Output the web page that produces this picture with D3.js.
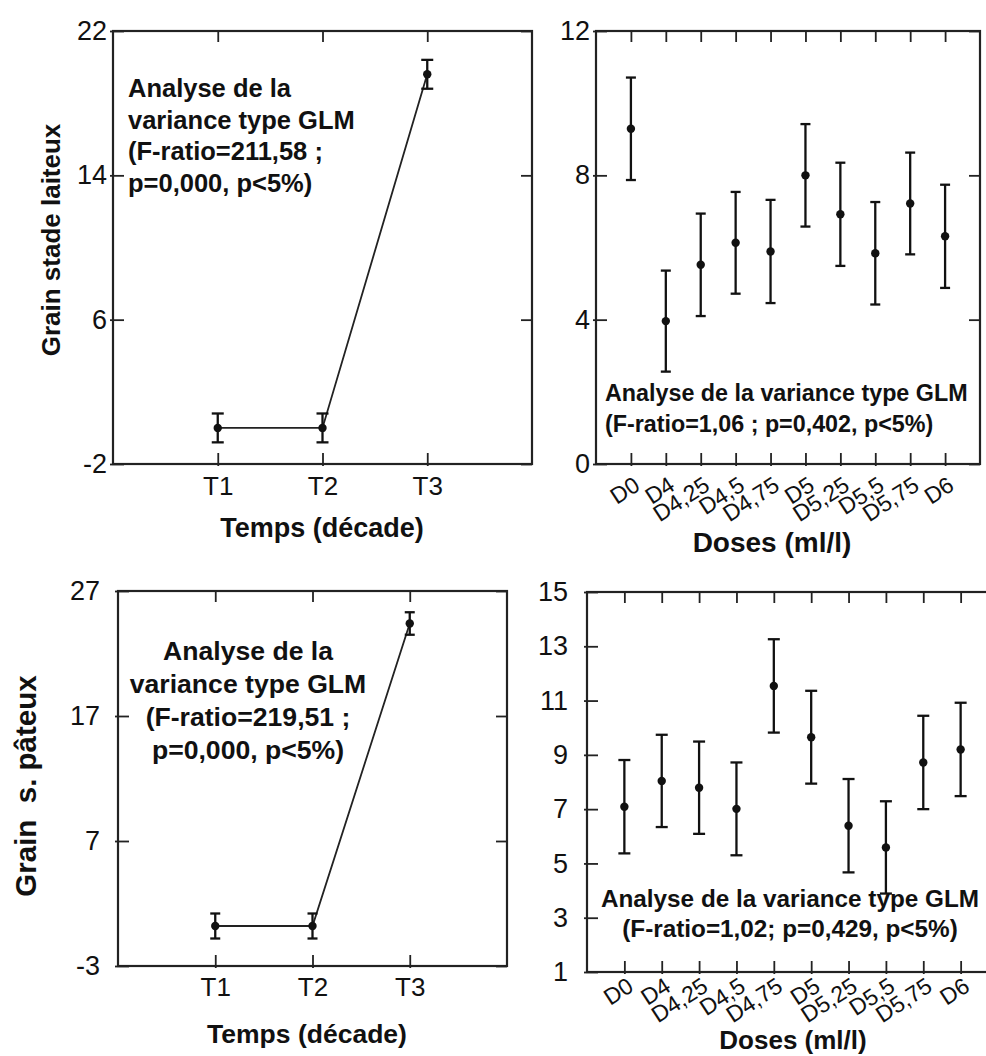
<!DOCTYPE html>
<html>
<head>
<meta charset="utf-8">
<script src="https://cdn.jsdelivr.net/npm/d3@7"></script>
<style>
  body { margin: 0; background: #fff; }
  svg { display: block; font-family: "Liberation Sans", Arial, sans-serif; }
</style>
</head>
<body>
<svg id="fig" width="986" height="1056"></svg>
<script>
// values
const timeCats = ["T1", "T2", "T3"];
const laiteuxTimeMean = [0.0, 0.0, 19.6];
const laiteuxTimeErr = [0.8, 0.8, 0.8];
const pateuxTimeMean = [0.2, 0.2, 24.4];
const pateuxTimeErr = [1.0, 1.0, 0.9];

const doseCats = ["D0", "D4", "D4,25", "D4,5", "D4,75", "D5", "D5,25", "D5,5", "D5,75", "D6"];
const laiteuxDoseMean = [9.29, 3.96, 5.52, 6.13, 5.89, 8.0, 6.92, 5.84, 7.22, 6.31];
const laiteuxDoseErr = [1.42, 1.4, 1.42, 1.41, 1.43, 1.42, 1.43, 1.42, 1.41, 1.43];
const pateuxDoseMean = [7.09, 8.04, 7.79, 7.01, 11.54, 9.65, 6.39, 5.59, 8.72, 9.2];
const pateuxDoseErr = [1.72, 1.7, 1.7, 1.71, 1.72, 1.71, 1.72, 1.7, 1.72, 1.72];

const ticksLaiteuxTime = [-2, 6, 14, 22];
const ticksLaiteuxDose = [0, 4, 8, 12];
const ticksPateuxTime = [-3, 7, 17, 27];
const ticksPateuxDose = [1, 3, 5, 7, 9, 11, 13, 15];

const svg = d3.select("#fig");
const ink = "#111";

function panel(o) {
  const x = d3.scaleLinear().domain([0, o.cats.length + 1]).range([o.x0, o.x1]);
  const y = d3.scaleLinear().domain(d3.extent(o.yTicks)).range([o.y1, o.y0]);
  const idx = o.cats.map((c, i) => i + 1);
  const g = svg.append("g");

  // frame
  g.append("rect")
    .attr("x", o.x0).attr("y", o.y0)
    .attr("width", o.x1 - o.x0).attr("height", o.y1 - o.y0)
    .attr("fill", "none").attr("stroke", "#222").attr("stroke-width", 2.2);

  // left axis with labels (plain hyphen for negatives, like the original)
  g.append("g")
    .attr("transform", `translate(${o.x0},0)`)
    .call(d3.axisLeft(y).tickValues(o.yTicks).tickSize(-11).tickPadding(o.yPad)
      .tickFormat(d => String(d)).tickSizeOuter(0))
    .call(a => a.select(".domain").remove())
    .call(a => a.selectAll(".tick line").attr("x1", -3).attr("stroke", "#222").attr("stroke-width", 1.8))
    .call(a => a.selectAll("text").attr("font-size", o.tickFs).attr("fill", ink));

  // right axis, ticks only
  g.append("g")
    .attr("transform", `translate(${o.x1},0)`)
    .call(d3.axisRight(y).tickValues(o.yTicks).tickSize(-11).tickFormat("").tickSizeOuter(0))
    .call(a => a.select(".domain").remove())
    .call(a => a.selectAll(".tick line").attr("stroke", "#222").attr("stroke-width", 1.8));

  // top axis, ticks only
  g.append("g")
    .attr("transform", `translate(0,${o.y0})`)
    .call(d3.axisTop(x).tickValues(idx).tickSize(-11).tickFormat("").tickSizeOuter(0))
    .call(a => a.select(".domain").remove())
    .call(a => a.selectAll(".tick line").attr("stroke", "#222").attr("stroke-width", 1.8));

  // bottom axis with category labels
  const bottom = g.append("g")
    .attr("transform", `translate(0,${o.y1})`)
    .call(d3.axisBottom(x).tickValues(idx).tickSize(-11).tickPadding(o.xPad)
      .tickFormat(i => o.cats[i - 1]).tickSizeOuter(0))
    .call(a => a.select(".domain").remove())
    .call(a => a.selectAll(".tick line").attr("y1", 2).attr("stroke", "#222").attr("stroke-width", 1.8))
    .call(a => a.selectAll("text").attr("font-size", o.catFs).attr("fill", ink));

  if (o.rotate) {
    bottom.selectAll("text")
      .attr("y", null).attr("dy", null)
      .attr("text-anchor", "end")
      .attr("transform", `translate(${o.rotDx},${o.rotDy}) rotate(-33)`);
  }

  // line between means
  if (o.line) {
    g.append("path")
      .datum(o.mean)
      .attr("fill", "none").attr("stroke", "#222").attr("stroke-width", 1.8)
      .attr("d", d3.line().x((d, i) => x(i + 1)).y(d => y(d)));
  }

  // error bars
  const bars = g.append("g").selectAll("g")
    .data(o.mean.map((m, i) => ({ i: i + 1, m: m, e: o.err[i] })))
    .join("g")
    .attr("stroke", ink).attr("stroke-width", 2.3);

  bars.append("line")
    .attr("x1", d => x(d.i)).attr("x2", d => x(d.i))
    .attr("y1", d => y(d.m - d.e)).attr("y2", d => y(d.m + d.e));
  bars.append("line")
    .attr("x1", d => x(d.i) - o.cap).attr("x2", d => x(d.i) + o.cap)
    .attr("y1", d => y(d.m + d.e)).attr("y2", d => y(d.m + d.e));
  bars.append("line")
    .attr("x1", d => x(d.i) - o.cap).attr("x2", d => x(d.i) + o.cap)
    .attr("y1", d => y(d.m - d.e)).attr("y2", d => y(d.m - d.e));
  bars.append("circle")
    .attr("cx", d => x(d.i)).attr("cy", d => y(d.m))
    .attr("r", 4.2).attr("fill", ink).attr("stroke", "none");

  // axis titles
  g.append("text")
    .attr("x", o.xTitle[0]).attr("y", o.xTitle[1])
    .attr("text-anchor", "middle").attr("font-weight", "bold")
    .attr("font-size", o.xTitle[2]).attr("fill", ink)
    .text(o.xLabel);

  if (o.yLabel) {
    g.append("text")
      .attr("transform", `translate(${o.yTitle[0]},${o.yTitle[1]}) rotate(-90)`)
      .attr("text-anchor", "middle").attr("font-weight", "bold")
      .attr("font-size", o.yTitle[2]).attr("fill", ink)
      .attr("xml:space", "preserve")
      .text(o.yLabel);
  }

  // GLM note
  g.append("g").selectAll("text")
    .data(o.note)
    .join("text")
    .attr("x", o.noteX).attr("y", (d, i) => o.noteY + i * o.noteDy)
    .attr("text-anchor", o.noteAnchor).attr("font-weight", "bold")
    .attr("font-size", o.noteFs).attr("fill", ink)
    .text(d => d);
}

panel({
  x0: 113, x1: 532, y0: 31, y1: 464,
  cats: timeCats, mean: laiteuxTimeMean, err: laiteuxTimeErr, yTicks: ticksLaiteuxTime,
  line: true, cap: 6, yPad: 6, xPad: 13, tickFs: 27, catFs: 26,
  xLabel: "Temps (décade)", xTitle: [322, 537, 27],
  yLabel: "Grain stade laiteux", yTitle: [60, 240, 26],
  note: ["Analyse de la", "variance type GLM", "(F-ratio=211,58 ;", "p=0,000, p<5%)"],
  noteX: 128, noteY: 97, noteDy: 31.5, noteAnchor: "start", noteFs: 25.5
});

panel({
  x0: 596, x1: 980, y0: 31, y1: 464,
  cats: doseCats, mean: laiteuxDoseMean, err: laiteuxDoseErr, yTicks: ticksLaiteuxDose,
  line: false, cap: 5, yPad: 6, xPad: 0, tickFs: 27, catFs: 23,
  rotate: true, rotDx: 10, rotDy: 25,
  xLabel: "Doses (ml/l)", xTitle: [772, 552, 28],
  note: ["Analyse de la variance type GLM", "(F-ratio=1,06 ; p=0,402, p<5%)"],
  noteX: 605, noteY: 401, noteDy: 31, noteAnchor: "start", noteFs: 23.3
});

panel({
  x0: 118, x1: 507, y0: 591, y1: 966,
  cats: timeCats, mean: pateuxTimeMean, err: pateuxTimeErr, yTicks: ticksPateuxTime,
  line: true, cap: 5, yPad: 18, xPad: 12, tickFs: 27, catFs: 26,
  xLabel: "Temps (décade)", xTitle: [307, 1043, 26.5],
  yLabel: "Grain  s. pâteux", yTitle: [36, 786, 29.5],
  note: ["Analyse de la", "variance type GLM", "(F-ratio=219,51 ;", "p=0,000, p<5%)"],
  noteX: 248, noteY: 660, noteDy: 33, noteAnchor: "middle", noteFs: 26.6
});

panel({
  x0: 587, x1: 998, y0: 592, y1: 972,
  cats: doseCats, mean: pateuxDoseMean, err: pateuxDoseErr, yTicks: ticksPateuxDose,
  line: false, cap: 6, yPad: 19, xPad: 0, tickFs: 27, catFs: 23,
  rotate: true, rotDx: 10, rotDy: 18,
  xLabel: "Doses (ml/l)", xTitle: [793, 1049, 26],
  note: ["Analyse de la variance type GLM", "(F-ratio=1,02; p=0,429, p<5%)"],
  noteX: 790, noteY: 907, noteDy: 30, noteAnchor: "middle", noteFs: 24.3
});
</script>
</body>
</html>
